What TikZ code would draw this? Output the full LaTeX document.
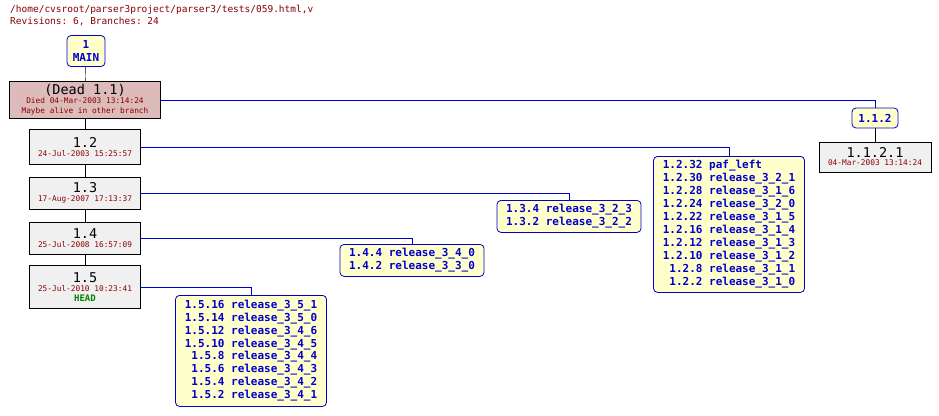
\documentclass[tikz,border=0pt]{standalone}
\usepackage{fontspec}
\setmonofont{DejaVu Sans Mono}
\usetikzlibrary{positioning}
\definecolor{tagfill}{HTML}{FFFFCC}
\definecolor{deadfill}{HTML}{DDBBBB}
\definecolor{revfill}{HTML}{F0F0F0}
\definecolor{darkred}{HTML}{880000}
\definecolor{tagblue}{HTML}{0000CC}
\newcommand{\tagrows}[1]{\begin{tabular}{@{}r@{\ }l@{}}#1\end{tabular}}
\newcommand{\revtitle}[1]{{\fontsize{13.5}{14}\selectfont #1}}
\newcommand{\revdate}[1]{{\color{darkred}\fontsize{7.8}{8}\selectfont #1}}
\tikzset{
  rev/.style={draw, thick, fill=revfill, minimum width=111pt, inner sep=1pt, align=center, font=\ttfamily},
  tags/.style={draw=tagblue, thick, fill=tagfill, rounded corners=4pt, text=tagblue, inner sep=2pt, font=\ttfamily\bfseries\fontsize{11}{12.9}\selectfont},
  link/.style={tagblue},
  trunk/.style={black}
}
\begin{document}
\begin{tikzpicture}[x=1pt,y=-1pt]
        \useasboundingbox (0,0) rectangle (939,415);
        \node[anchor=north west, text=darkred, font=\ttfamily\fontsize{9.5}{12}\selectfont, align=left, inner sep=0pt] (head) at (10,5) {/home/cvsroot/parser3project/parser3/tests/059.html,v\\Revisions: 6, Branches: 24};

        \node[tags, minimum width=38pt, minimum height=31pt, align=center, inner sep=1pt] (main) at (86,51) {1\\MAIN};
        \node[rev, fill=deadfill, minimum width=151pt, minimum height=37pt] (r11) at (85,100) {\revtitle{(Dead 1.1)}\\[-3pt]\revdate{Died 04-Mar-2003 13:14:24}\\[-2pt]\revdate{Maybe alive in other branch}};
        \node[rev, minimum height=35pt] (r12) at (85,147) {\revtitle{1.2}\\[-3pt]\revdate{24-Jul-2003 15:25:57}};
        \node[rev, minimum height=32pt] (r13) at (85,193) {\revtitle{1.3}\\[-3pt]\revdate{17-Aug-2007 17:13:37}};
        \node[rev, minimum height=32pt] (r14) at (85,238) {\revtitle{1.4}\\[-3pt]\revdate{25-Jul-2008 16:57:09}};
        \node[rev, minimum height=43pt] (r15) at (85,287) {\revtitle{1.5}\\[-3pt]\revdate{25-Jul-2010 10:23:41}\\[-2pt]{\color{green!50!black}\bfseries\fontsize{9}{9}\selectfont HEAD}};

        \node[tags, align=center, inner sep=2pt, minimum width=46pt, minimum height=20pt] (b112) at (875,118) {1.1.2};
        \node[rev, minimum width=112pt, minimum height=30pt] (r1121) at (875,157) {\revtitle{1.1.2.1}\\[-4pt]\revdate{04-Mar-2003 13:14:24}};

        % symbolic tags
        \node[tags, anchor=north, minimum width=151pt, minimum height=136pt] (t12) at (729,156) {\tagrows{1.2.32 & paf\_left\\1.2.30 & release\_3\_2\_1\\1.2.28 & release\_3\_1\_6\\1.2.24 & release\_3\_2\_0\\1.2.22 & release\_3\_1\_5\\1.2.16 & release\_3\_1\_4\\1.2.12 & release\_3\_1\_3\\1.2.10 & release\_3\_1\_2\\1.2.8 & release\_3\_1\_1\\1.2.2 & release\_3\_1\_0}};
        \node[tags, anchor=north, minimum width=144pt, minimum height=32pt] (t13) at (569,200) {\tagrows{1.3.4 & release\_3\_2\_3\\1.3.2 & release\_3\_2\_2}};
        \node[tags, anchor=north, minimum width=144pt, minimum height=32pt] (t14) at (412,244) {\tagrows{1.4.4 & release\_3\_4\_0\\1.4.2 & release\_3\_3\_0}};
        \node[tags, anchor=north, minimum width=151pt, minimum height=111pt] (t15) at (251,295) {\tagrows{1.5.16 & release\_3\_5\_1\\1.5.14 & release\_3\_5\_0\\1.5.12 & release\_3\_4\_6\\1.5.10 & release\_3\_4\_5\\1.5.8 & release\_3\_4\_4\\1.5.6 & release\_3\_4\_3\\1.5.4 & release\_3\_4\_2\\1.5.2 & release\_3\_4\_1}};

        \draw[trunk] (main) -- (r11);
        \draw[trunk] (r11) -- (r12);
        \draw[trunk] (r12) -- (r13);
        \draw[trunk] (r13) -- (r14);
        \draw[trunk] (r14) -- (r15);
        \draw[trunk] (b112) -- (r1121);

        \draw[link] (r11.east) -| (b112.north);
        \draw[link] (r12.east) -| (t12.north);
        \draw[link] (r13.east) -| (t13.north);
        \draw[link] (r14.east) -| (t14.north);
        \draw[link] (r15.east) -| (t15.north);
\end{tikzpicture}
\end{document}
